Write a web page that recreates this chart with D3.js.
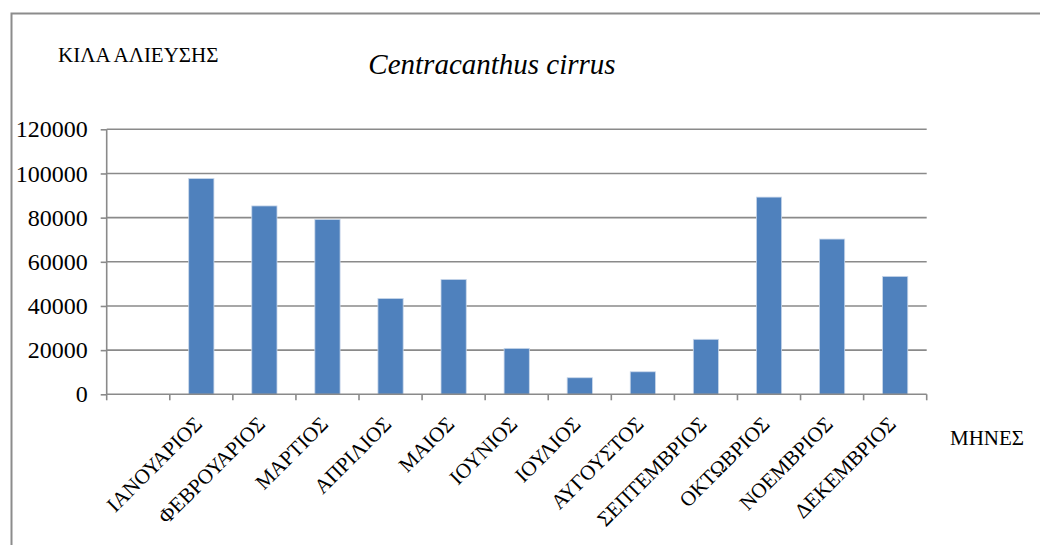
<!DOCTYPE html>
<html>
<head>
<meta charset="utf-8">
<script src="https://cdn.jsdelivr.net/npm/d3@7"></script>
<style>
  body { margin: 0; background: #fff; }
</style>
</head>
<body>
<svg id="chart" width="1040" height="545" font-family="Liberation Serif"></svg>
<script>
// months (first slot is empty in the original chart)
var months = ["", "ΙΑΝΟΥΑΡΙΟΣ", "ΦΕΒΡΟΥΑΡΙΟΣ", "ΜΑΡΤΙΟΣ", "ΑΠΡΙΛΙΟΣ", "ΜΑΙΟΣ", "ΙΟΥΝΙΟΣ",
  "ΙΟΥΛΙΟΣ", "ΑΥΓΟΥΣΤΟΣ", "ΣΕΠΤΕΜΒΡΙΟΣ", "ΟΚΤΩΒΡΙΟΣ", "ΝΟΕΜΒΡΙΟΣ", "ΔΕΚΕΜΒΡΙΟΣ"];
var kilos = [null, 97700, 85300, 79200, 43400, 52000, 20800, 7500, 10200, 24900, 89300, 70300, 53400];
var yTicks = [0, 20000, 40000, 60000, 80000, 100000, 120000];

var svg = d3.select("#chart");
var plotL = 106.7, plotR = 926.7, plotT = 129.3, plotB = 394.3;
var gridCol = "#8a8a8a";
var fontName = "Liberation Serif";

// outer frame (only left and top edges visible)
svg.append("path")
  .attr("d", "M11.5,545 L11.5,13.5 L1040,13.5")
  .attr("fill", "none")
  .attr("stroke", "#8c8c8c")
  .attr("stroke-width", 2);

var xSlot = d3.scaleBand().domain(d3.range(months.length)).range([plotL, plotR]);
var x = d3.scaleBand().domain(d3.range(months.length)).range([plotL, plotR]).paddingInner(0.6).paddingOuter(0.3);
var y = d3.scaleLinear().domain([0, 120000]).range([plotB, plotT]);

// gridlines
svg.append("g").selectAll("line").data(yTicks.slice(1)).enter().append("line")
  .attr("x1", plotL).attr("x2", plotR)
  .attr("y1", function(d) { return y(d); }).attr("y2", function(d) { return y(d); })
  .attr("stroke", gridCol).attr("stroke-width", 1.6);

// y axis
var yAxis = svg.append("g").attr("transform", "translate(" + plotL + ",0)")
  .call(d3.axisLeft(y).tickValues(yTicks).tickSize(6).tickPadding(13).tickFormat(d3.format("d")));
yAxis.attr("font-family", null).attr("font-size", null);
yAxis.select(".domain").attr("stroke", gridCol).attr("stroke-width", 1.6).attr("d", "M0," + plotT + "V" + plotB);
yAxis.selectAll(".tick line").attr("stroke", gridCol).attr("stroke-width", 1.6);
yAxis.selectAll(".tick text")
  .attr("fill", "#000")
  .attr("font-family", function() { return fontName; })
  .attr("font-size", 24);

// bars
var barData = kilos.map(function(v, i) { return {i: i, v: v}; }).filter(function(d) { return d.v != null; });
svg.append("g").selectAll("rect").data(barData).enter().append("rect")
  .attr("x", function(d) { return x(d.i); })
  .attr("y", function(d) { return y(d.v); })
  .attr("width", x.bandwidth())
  .attr("height", function(d) { return plotB - y(d.v); })
  .attr("fill", "#4f81bd")
  .attr("stroke", "#c9d7ea")
  .attr("stroke-width", 0.8);

// x axis
var xAxisG = svg.append("g").attr("transform", "translate(0," + plotB + ")");
xAxisG.append("line").attr("x1", plotL).attr("x2", plotR).attr("stroke", gridCol).attr("stroke-width", 1.6);
xAxisG.selectAll(".tk").data(d3.range(months.length + 1)).enter().append("line")
  .attr("x1", function(d) { return plotL + d * xSlot.step(); })
  .attr("x2", function(d) { return plotL + d * xSlot.step(); })
  .attr("y1", 0).attr("y2", 6)
  .attr("stroke", gridCol).attr("stroke-width", 1.6);

xAxisG.selectAll(".lbl").data(months).enter().append("text")
  .attr("transform", function(d, i) {
    var cx = xSlot(i) + xSlot.bandwidth() / 2 + 2;
    return "translate(" + cx + ",31) rotate(-45)";
  })
  .attr("text-anchor", "end")
  .attr("font-family", function() { return fontName; })
  .attr("font-size", 21)
  .text(function(d) { return d; });

// titles
var titles = [
  {t: "ΚΙΛΑ ΑΛΙΕΥΣΗΣ", x: 58, y: 62, size: 21, anchor: "start", style: "normal"},
  {t: "Centracanthus cirrus", x: 492, y: 74, size: 29, anchor: "middle", style: "italic"},
  {t: "ΜΗΝΕΣ", x: 950, y: 445, size: 21, anchor: "start", style: "normal"}
];
svg.selectAll(".ttl").data(titles).enter().append("text")
  .attr("x", function(d) { return d.x; })
  .attr("y", function(d) { return d.y; })
  .attr("text-anchor", function(d) { return d.anchor; })
  .attr("font-family", function() { return fontName; })
  .attr("font-size", function(d) { return d.size; })
  .attr("font-style", function(d) { return d.style; })
  .text(function(d) { return d.t; });
</script>
</body>
</html>
